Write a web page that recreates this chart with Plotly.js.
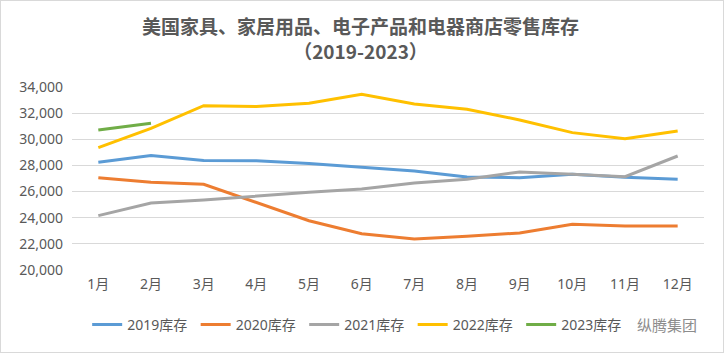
<!DOCTYPE html>
<html>
<head>
<meta charset="utf-8">
<script src="https://cdn.plot.ly/plotly-3.0.1.min.js"></script>
<style>
html,body{margin:0;padding:0;background:#fff;}
#wrap{position:relative;width:724px;height:353px;}
#chart{width:724px;height:353px;}
#border{position:absolute;left:0;top:0;width:722px;height:351px;border:1px solid #d9d9d9;pointer-events:none;}
</style>
</head>
<body>
<div id="wrap"><div id="chart"></div><div id="border"></div></div>
<script>
const months = ["1月","2月","3月","4月","5月","6月","7月","8月","9月","10月","11月","12月"];
const seriesNames = ["2019库存","2020库存","2021库存","2022库存","2023库存"];
const v2019 = [28240,28750,28370,28350,28140,27830,27570,27120,27060,27320,27100,26940];
const v2020 = [27060,26710,26560,25180,23770,22780,22370,22580,22830,23500,23370,23370];
const v2021 = [24160,25130,25360,25660,25940,26200,26660,26940,27500,27320,27140,28720];
const v2022 = [29360,30840,32570,32500,32750,33440,32700,32300,31480,30510,30050,30640];
const v2023 = [30710,31220];
const titleLines = ["美国家具、家居用品、电子产品和电器商店零售库存","（2019-2023）"];
const colors = ["#5B9BD5","#ED7D31","#A5A5A5","#FFC000","#70AD47"];
const allVals = [v2019,v2020,v2021,v2022,v2023];
const FONT = "'Noto Sans', 'Noto Sans CJK SC', sans-serif";
const TFONT = "'Noto Sans CJK SC', 'Noto Sans', sans-serif";

const traces = allVals.map((vals,i)=>({
  type:"scatter", mode:"lines",
  x: months.slice(0, vals.length), y: vals,
  name: seriesNames[i],
  line:{color:colors[i], width:3}
}));

const layout = {
  width:724, height:353,
  margin:{l:72, r:20, t:87, b:83},
  paper_bgcolor:"#fff", plot_bgcolor:"#fff",
  font:{family:FONT, color:"#595959", size:14},
  xaxis:{type:"category", categoryarray:months, range:[-0.5,11.5], showgrid:false, zeroline:false,
         showline:false, ticks:"", ticklabelstandoff:4, tickfont:{size:14, color:"#595959"}},
  yaxis:{range:[20000,34000], dtick:2000, tickformat:",d", showgrid:true,
         gridcolor:"#d9d9d9", gridwidth:1, zeroline:false, showline:false,
         ticks:"", ticklabelstandoff:8, tickfont:{size:14, color:"#595959"}},
  showlegend:true,
  legend:{orientation:"h", x:0.024, xanchor:"left", y:-0.30, yanchor:"middle",
          font:{size:14, color:"#595959"}, itemwidth:30, entrywidth:63.5, entrywidthmode:"pixels"},
  annotations:[
    {text:"<b>"+titleLines[0]+"</b><br><b>"+titleLines[1]+"</b>", xref:"paper", yref:"paper",
     x:0.457, y:1.268, xanchor:"center", yanchor:"middle", align:"center",
     showarrow:false, font:{family:TFONT, size:19, color:"#595959"}},
    {text:"纵腾集团", xref:"paper", yref:"paper", x:0.992, y:-0.30,
     xanchor:"right", yanchor:"middle", showarrow:false,
     font:{family:TFONT, size:15, color:"#8c8c8c"}}]
};

Plotly.newPlot("chart", traces, layout, {displayModeBar:false, staticPlot:true});
</script>
</body>
</html>
